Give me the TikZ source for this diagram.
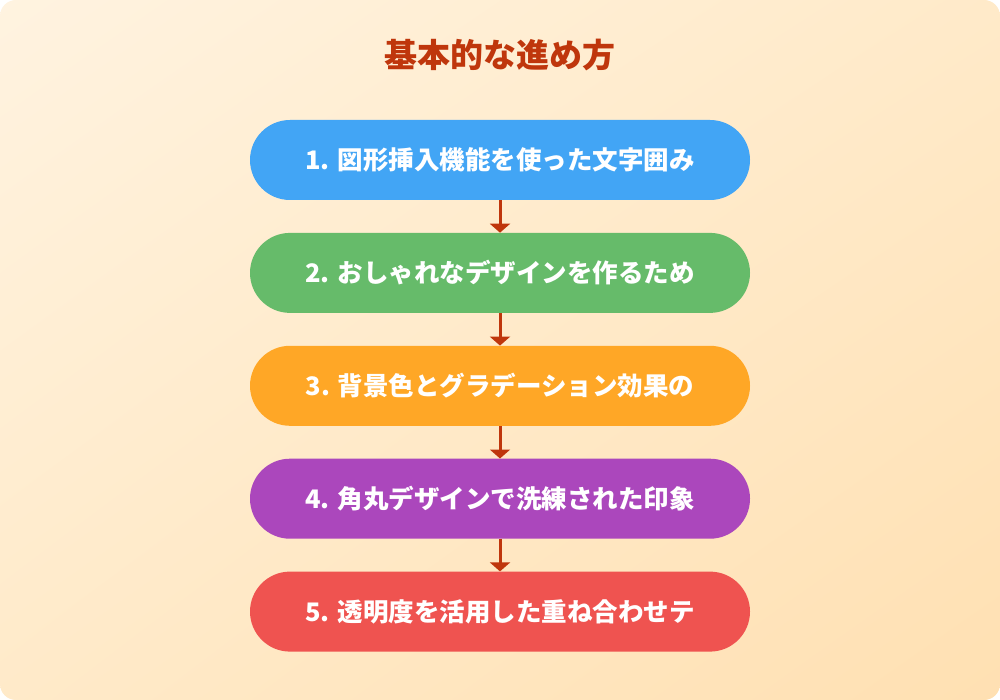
\documentclass[tikz,border=0pt]{standalone}
\usepackage{fontspec}
\setmainfont{Noto Sans CJK JP}
\usetikzlibrary{positioning,arrows.meta,shadings}
\definecolor{bgA}{HTML}{FFF3E0}
\definecolor{bgB}{HTML}{FFE0B2}
\definecolor{bgM}{HTML}{FFEAC9}
\definecolor{titlered}{HTML}{BF360C}
\definecolor{stepblue}{HTML}{42A5F5}
\definecolor{stepgreen}{HTML}{66BB6A}
\definecolor{steporange}{HTML}{FFA726}
\definecolor{steppurple}{HTML}{AB47BC}
\definecolor{stepred}{HTML}{EF5350}
\tikzset{
  stepbox/.style = {rounded corners=40pt, minimum width=500pt, minimum height=80pt,
    text=white, font=\fontsize{25.5pt}{30pt}\selectfont\bfseries, inner sep=0pt},
  flow/.style = {draw=titlered, line width=3pt, -{Triangle[width=20pt,length=9pt]}}
}
\begin{document}
\begin{tikzpicture}[x=1pt,y=-1pt]
 \useasboundingbox (0,0) rectangle (1000,700);
 % background
 \shade[rounded corners=16pt, upper left=bgA, lower right=bgB,
   upper right=bgM, lower left=bgM] (0,0) rectangle (1000,700);
 \node[text=titlered, font=\fontsize{33pt}{38pt}\selectfont\bfseries] (title) at (500,55) {基本的な進め方};

 \node[stepbox, fill=stepblue] (s1) at (500,160) {1. 図形挿入機能を使った文字囲み};
 \node[stepbox, fill=stepgreen, below=32.5pt of s1] (s2) {2. おしゃれなデザインを作るため};
 \node[stepbox, fill=steporange, below=32.5pt of s2] (s3) {3. 背景色とグラデーション効果の};
 \node[stepbox, fill=steppurple, below=32.5pt of s3] (s4) {4. 角丸デザインで洗練された印象};
 \node[stepbox, fill=stepred, below=32.5pt of s4] (s5) {5. 透明度を活用した重ね合わせテ};

 \draw[flow] (s1) -- (s2);
 \draw[flow] (s2) -- (s3);
 \draw[flow] (s3) -- (s4);
 \draw[flow] (s4) -- (s5);
\end{tikzpicture}
\end{document}
